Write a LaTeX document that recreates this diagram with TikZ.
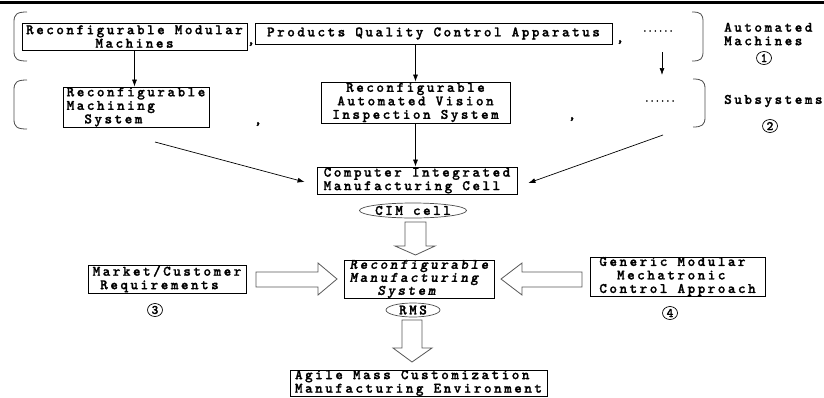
\documentclass[tikz,border=0pt]{standalone}
\usepackage{fontspec}
\newfontfamily\dfont{lmmonolt10-bold}[Extension=.otf,LetterSpace=17,FakeBold=1.3,BoldFont=lmmonolt10-bold,ItalicFont=lmmonolt10-boldoblique,BoldItalicFont=lmmonolt10-boldoblique]
\newfontfamily\dotfont{lmmonolt10-bold}[Extension=.otf,FakeBold=1.2]
\usetikzlibrary{shapes.geometric,arrows.meta}
\begin{document}
\begin{tikzpicture}[x=1pt,y=-1pt,
  font=\dfont\fontsize{14.5}{13.5}\selectfont,
  box/.style={draw,line width=0.8pt,inner sep=0pt},
  arr/.style={line width=0.7pt,-{Latex[length=7pt,width=5pt]}},
  brk/.style={draw=black!70,line width=0.8pt},
  hollow/.style={draw=black!65,line width=0.8pt,fill=white},
  oval/.style={ellipse,draw=black!70,line width=0.7pt,inner sep=0pt},
  num/.style={ellipse,draw,line width=0.7pt,inner sep=0pt,minimum width=15pt,minimum height=13pt,font=\dotfont\fontsize{13}{13}\selectfont},
  lbl/.style={inner sep=0pt}]
\useasboundingbox (0,0) rectangle (824,397);
\fill (0,1) rectangle (824,4);

% top row
\node[box,minimum width=225pt,minimum height=27pt,align=center] (b1) at (134.5,36.5) {Reconfigurable Modular\\Machines};
\node[box,minimum width=357pt,minimum height=21pt] (b2) at (433.5,33.5) {Products Quality Control Apparatus};
\node[lbl] (c1) at (251,44) {,};
\node[lbl] (c2) at (620,42) {,};
\node[lbl,font=\dotfont\fontsize{10}{10}\selectfont] (d1) at (658,31) {......};
\node[lbl,align=left,anchor=west] (am) at (724,34) {Automated\\Machines};
\node[num] (n1) at (764,58) {1};

% second row
\node[box,minimum width=146pt,minimum height=40pt,align=left] (b3) at (136,107) {Reconfigurable\\Machining\\\phantom{xx}System};
\node[box,minimum width=189pt,minimum height=41pt,align=center] (avis) at (415.5,102.5) {Reconfigurable\\Automated Vision\\Inspection System};
\node[lbl] (c3) at (258,124) {,};
\node[lbl] (c4) at (572,119) {,};
\node[lbl,font=\dotfont\fontsize{10}{10}\selectfont] (d2) at (660,101) {......};
\node[lbl,anchor=west] (sub) at (724,101) {Subsystems};
\node[num] (n2) at (770,126) {2};

% brackets
\draw[brk] (27,12) .. controls (17,12) and (14,14) .. (14,22) -- (14,51) .. controls (14,59) and (17,61) .. (27,61);
\draw[brk] (27,80) .. controls (17,80) and (14,82) .. (14,90) -- (14,119) .. controls (14,127) and (17,129) .. (27,129);
\draw[brk] (692,12) .. controls (701,12) and (703,14) .. (703,22) -- (703,51) .. controls (703,59) and (701,61) .. (692,61);
\draw[brk] (693,79) .. controls (702,79) and (705,81) .. (705,89) -- (705,117) .. controls (705,125) and (702,127) .. (693,127);

% CIM
\node[box,minimum width=200pt,minimum height=27pt,align=left] (cim) at (417,180.5) {Computer Integrated\\Manufacturing Cell};
\node[oval,minimum width=93pt,minimum height=15pt] (cimc) at (413,210.5) {CIM cell};

% RMS
\node[box,minimum width=150pt,minimum height=38pt,align=left,font=\dfont\itshape\fontsize{14.5}{13}\selectfont] (rms) at (419,279) {Reconfigurable\\Manufacturing\\\phantom{xxx}System};
\node[oval,minimum width=54pt,minimum height=14pt] (rmsc) at (413,310) {RMS};

\node[box,minimum width=158pt,minimum height=28pt,align=left] (mk) at (167,279) {Market/Customer\\\phantom{x}Requirements};
\node[num] (n3) at (155,310) {3};
\node[box,minimum width=175pt,minimum height=39pt,align=left] (gen) at (677.5,276.5) {Generic Modular\\\phantom{xx}Mechatronic\\Control Approach};
\node[num] (n4) at (670,313) {4};

\node[box,minimum width=257pt,minimum height=26pt,align=left] (ag) at (418.5,383) {Agile Mass Customization\\Manufacturing Environment};

% thin arrows
\draw[arr] (b1.south) -- (b1.south |- b3.north);
\draw[arr] (avis.north |- b2.south) -- (avis.north);
\coordinate (d1a) at (662,52);
\coordinate (d1b) at (662,75);
\draw[arr] (d1a) -- (d1b);
\draw[arr] (avis.south) -- (avis.south |- cim.north);
\coordinate (la) at (155,142);
\coordinate (ra) at (663,135);
\draw[arr] (la) -- ([xshift=-12pt,yshift=-1.5pt]cim.west);
\draw[arr] (ra) -- ([xshift=11pt,yshift=-2.5pt]cim.east);

% hollow arrows
\draw[hollow] (405,222) -- (426,222) -- (426,246) -- (435,246) -- (415.5,255) -- (395,246) -- (405,246) -- cycle;
\draw[hollow] (402,320) -- (422,320) -- (422,348) -- (432,348) -- (412,362) -- (393,348) -- (402,348) -- cycle;
\draw[hollow] (256,272) -- (318,272) -- (318,263) -- (337,279) -- (318,295) -- (318,287) -- (256,287) -- cycle;
\draw[hollow] (582,272) -- (522,272) -- (522,263) -- (501,279) -- (522,295) -- (522,287) -- (582,287) -- cycle;
\end{tikzpicture}
\end{document}
